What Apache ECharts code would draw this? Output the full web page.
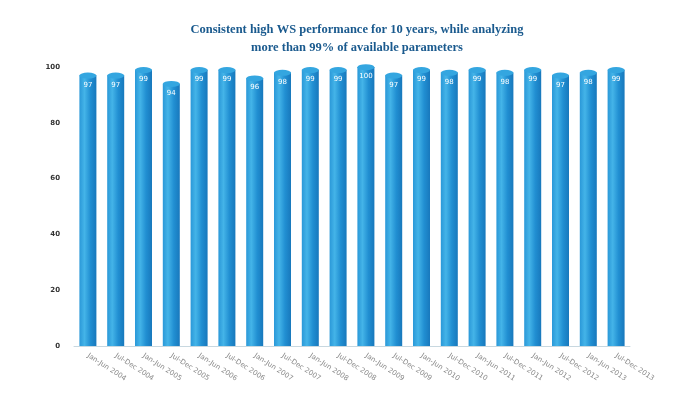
<!DOCTYPE html>
<html>
<head>
<meta charset="utf-8">
<script src="https://cdn.jsdelivr.net/npm/echarts@6/dist/echarts.min.js"></script>
<style>html,body{margin:0;padding:0;background:#fff;}#c{width:680px;height:409px;}</style>
</head>
<body>
<div id="c"></div>
<script>
const categories = [
  "Jan-Jun 2004","Jul-Dec 2004","Jan-Jun 2005","Jul-Dec 2005","Jan-Jun 2006",
  "Jul-Dec 2006","Jan-Jun 2007","Jul-Dec 2007","Jan-Jun 2008","Jul-Dec 2008",
  "Jan-Jun 2009","Jul-Dec 2009","Jan-Jun 2010","Jul-Dec 2010","Jan-Jun 2011",
  "Jul-Dec 2011","Jan-Jun 2012","Jul-Dec 2012","Jan-Jun 2013","Jul-Dec 2013"
];
const values = [97,97,99,94,99,99,96,98,99,99,100,97,99,98,99,98,99,97,98,99];
const yTicks = [0,20,40,60,80,100];
const titleText = "Consistent high WS performance for 10 years, while analyzing\nmore than 99% of available parameters";

const chart = echarts.init(document.getElementById('c'));
chart.setOption({
  backgroundColor: '#ffffff',
  animation: false,
  title: {
    text: titleText,
    left: 352,
    textAlign: 'center',
    top: 16,
    textStyle: {
      fontFamily: 'Liberation Serif',
      fontWeight: 'bold',
      fontSize: 12.5,
      lineHeight: 18,
      color: '#1a5a8e'
    }
  },
  grid: { left: 74, right: 50, top: 67, bottom: 63 },
  xAxis: {
    type: 'category',
    data: categories,
    axisLine: { show: true, lineStyle: { color: '#c8d8e0' } },
    axisTick: { show: false },
    axisLabel: {
      interval: 0,
      rotate: -33,
      fontSize: 7,
      color: '#8a8a8a',
      margin: 9,
      fontFamily: 'DejaVu Sans'
    }
  },
  yAxis: {
    type: 'value',
    min: 0,
    max: 100,
    interval: 20,
    axisLine: { show: false },
    axisTick: { show: false },
    splitLine: { show: false },
    axisLabel: {
      fontSize: 7,
      color: '#333',
      fontWeight: 'bold',
      margin: 14,
      fontFamily: 'DejaVu Sans',
      formatter: function (v) { return yTicks.indexOf(v) >= 0 ? String(v) : ''; }
    }
  },
  series: [
    {
      type: 'bar',
      data: values,
      barWidth: 17,
      z: 2,
      itemStyle: {
        color: new echarts.graphic.LinearGradient(0, 0, 1, 0, [
          { offset: 0, color: '#2a98d8' },
          { offset: 0.3, color: '#44b4e8' },
          { offset: 0.65, color: '#218fd2' },
          { offset: 1, color: '#1878bc' }
        ])
      },
      label: {
        show: true,
        position: 'insideTop',
        distance: 6,
        color: '#ffffff',
        fontSize: 7,
        fontFamily: 'DejaVu Sans'
      }
    },
    {
      type: 'pictorialBar',
      data: values,
      symbol: 'circle',
      symbolSize: [17, 6],
      symbolPosition: 'end',
      symbolOffset: [0, '-50%'],
      z: 3,
      itemStyle: {
        color: '#34a6e0',
        borderColor: '#7fd0f3',
        borderWidth: 0.8
      },
      tooltip: { show: false }
    }
  ]
});
</script>
</body>
</html>
